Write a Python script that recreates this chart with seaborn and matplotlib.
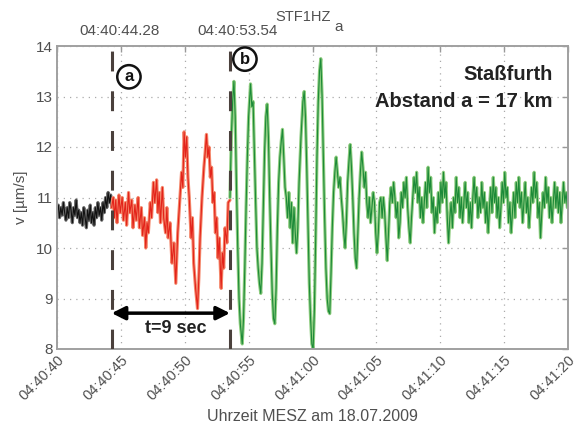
import matplotlib
matplotlib.use("Agg")
import matplotlib.pyplot as plt
import matplotlib.transforms as mtransforms
import seaborn as sns

# ---------------- data (seconds after 04:40:00, velocity in µm/s) ----------------
black_t = [40.0, 40.1, 40.2, 40.3, 40.4, 40.5, 40.6, 40.7, 40.8, 40.9,
           41.0, 41.1, 41.2, 41.3, 41.4, 41.5, 41.6, 41.7, 41.8, 41.9,
           42.0, 42.1, 42.2, 42.3, 42.4, 42.5, 42.6, 42.7, 42.8, 42.9,
           43.0, 43.1, 43.2, 43.3, 43.4, 43.5, 43.6, 43.7, 43.8, 43.9,
           44.0, 44.1, 44.2, 44.28]
black_v = [10.7, 10.85, 10.6, 10.8, 10.65, 10.9, 10.7, 10.55, 10.8, 10.6,
           10.9, 10.75, 10.5, 10.8, 10.65, 10.95, 10.6, 10.75, 10.5, 10.7,
           10.45, 10.8, 10.6, 10.4, 10.75, 10.55, 10.85, 10.5, 10.7, 10.45,
           10.8, 10.6, 10.9, 10.65, 10.8, 10.55, 10.9, 10.7, 11.0, 10.8,
           11.1, 10.9, 11.05, 10.8]

red_t = [44.28, 44.4, 44.5, 44.6, 44.7, 44.85, 44.95, 45.1, 45.2, 45.35,
         45.45, 45.6, 45.7, 45.85, 45.95, 46.1, 46.2, 46.35, 46.45, 46.6,
         46.7, 46.85, 46.95, 47.05, 47.15, 47.3, 47.4, 47.55, 47.65, 47.8,
         47.9, 48.0, 48.1, 48.25, 48.35, 48.5, 48.6, 48.7, 48.85, 49.0,
         49.15, 49.3, 49.45, 49.6, 49.75, 49.85, 49.95, 50.05, 50.15, 50.25,
         50.35, 50.5, 50.6, 50.7, 50.85, 51.0, 51.1, 51.2, 51.35, 51.5,
         51.6, 51.7, 51.8, 51.9, 52.0, 52.1, 52.2, 52.3, 52.4, 52.5,
         52.6, 52.7, 52.85, 52.95, 53.05, 53.15, 53.3, 53.4, 53.54]
red_v = [10.8, 11.0, 10.6, 10.95, 10.5, 11.05, 10.7, 11.0, 10.55, 10.9,
         10.45, 11.1, 10.7, 10.95, 10.4, 10.85, 10.55, 11.0, 10.4, 10.8,
         10.25, 10.6, 10.0, 10.5, 10.3, 10.9, 10.6, 11.3, 10.9, 11.35,
         10.7, 11.1, 10.5, 11.2, 10.6, 10.3, 10.8, 10.2, 10.5, 9.7,
         10.1, 9.3, 10.3, 10.9, 11.5, 11.2, 12.3, 11.8, 12.2, 11.4,
         11.0, 10.2, 10.6, 9.7, 9.2, 8.8, 9.4, 10.2, 11.0, 11.6,
         11.9, 12.25, 11.8, 12.0, 11.4, 11.6, 10.9, 11.1, 10.3, 10.6,
         9.8, 10.2, 9.2, 9.9, 9.6, 10.4, 10.1, 10.9, 10.95]

green_t = [53.54, 53.65, 53.75, 53.85, 53.95, 54.05, 54.15, 54.25, 54.35, 54.5,
           54.6, 54.7, 54.8, 54.9, 55.0, 55.15, 55.25, 55.35, 55.45, 55.55,
           55.65, 55.75, 55.85, 55.95, 56.05, 56.15, 56.25, 56.35, 56.45, 56.55,
           56.65, 56.75, 56.85, 56.95, 57.05, 57.15, 57.25, 57.35, 57.45, 57.55,
           57.65, 57.75, 57.85, 57.95, 58.05, 58.15, 58.25, 58.35, 58.45, 58.55,
           58.65, 58.75, 58.85, 58.95, 59.1, 59.25, 59.35, 59.45, 59.55, 59.65,
           59.75, 59.85, 59.95, 60.05, 60.15, 60.25, 60.35, 60.45, 60.55, 60.65,
           60.75, 60.85, 60.95, 61.05, 61.15, 61.25, 61.35, 61.45, 61.55, 61.65,
           61.75, 61.85, 61.95, 62.05, 62.15, 62.25, 62.35, 62.45, 62.55, 62.65,
           62.75, 62.85, 62.95, 63.05, 63.15, 63.25, 63.35, 63.45, 63.55, 63.65,
           63.75, 63.85, 63.95, 64.05, 64.15, 64.25, 64.35, 64.45, 64.55, 64.65,
           64.75, 64.85, 64.95, 65.05, 65.15, 65.25, 65.35, 65.45, 65.55, 65.65,
           65.75, 65.85, 65.95, 66.05, 66.15, 66.25, 66.35, 66.45, 66.55, 66.65,
           66.75, 66.85, 66.95, 67.05, 67.15, 67.25, 67.35, 67.45, 67.55, 67.65,
           67.75, 67.85, 67.95, 68.05, 68.15, 68.25, 68.35, 68.45, 68.55, 68.65,
           68.75, 68.85, 68.95, 69.05, 69.15, 69.25, 69.35, 69.45, 69.55, 69.65,
           69.75, 69.85, 69.95, 70.05, 70.15, 70.25, 70.35, 70.45, 70.55, 70.65,
           70.75, 70.85, 70.95, 71.05, 71.15, 71.25, 71.35, 71.45, 71.55, 71.65,
           71.75, 71.85, 71.95, 72.05, 72.15, 72.25, 72.35, 72.45, 72.55, 72.65,
           72.75, 72.85, 72.95, 73.05, 73.15, 73.25, 73.35, 73.45, 73.55, 73.65,
           73.75, 73.85, 73.95, 74.05, 74.15, 74.25, 74.35, 74.45, 74.55, 74.65,
           74.75, 74.85, 74.95, 75.05, 75.15, 75.25, 75.35, 75.45, 75.55, 75.65,
           75.75, 75.85, 75.95, 76.05, 76.15, 76.25, 76.35, 76.45, 76.55, 76.65,
           76.75, 76.85, 76.95, 77.05, 77.15, 77.25, 77.35, 77.45, 77.55, 77.65,
           77.75, 77.85, 77.95, 78.05, 78.15, 78.25, 78.35, 78.45, 78.55, 78.65,
           78.75, 78.85, 78.95, 79.05, 79.15, 79.25, 79.35, 79.45, 79.55, 79.65,
           79.75, 79.85, 79.95]
green_v = [11.0, 12.2, 12.9, 13.3, 12.6, 11.2, 10.0, 9.0, 8.5, 8.1,
           8.6, 9.6, 10.8, 11.8, 12.6, 13.25, 12.8, 12.9, 11.9, 10.9,
           10.0, 9.6, 9.3, 9.1, 9.7, 10.8, 11.9, 12.6, 12.85, 12.2,
           11.0, 10.0, 9.1, 8.6, 8.5, 9.2, 10.4, 11.3, 11.8, 12.1,
           12.35, 11.8, 11.2, 11.0, 10.6, 11.1, 10.4, 10.9, 10.1, 10.8,
           10.3, 9.9, 10.4, 11.3, 12.2, 12.9, 13.1, 12.6, 11.6, 10.4,
           9.3, 8.6, 8.1, 8.0, 8.8, 10.2, 11.8, 12.9, 13.5, 13.75,
           13.0, 11.8, 10.6, 9.6, 9.0, 8.75, 8.7, 9.5, 10.4, 11.1,
           11.5, 11.8, 11.5, 11.2, 11.4, 11.0, 10.7, 10.3, 10.0, 10.5,
           11.3, 11.7, 12.05, 11.6, 11.0, 10.3, 9.8, 9.6, 10.3, 11.0,
           11.5, 11.9, 11.6, 11.2, 11.5, 10.9, 10.6, 11.0, 10.5, 10.8,
           11.1, 10.9, 10.3, 9.9, 10.3, 10.9, 11.0, 10.6, 11.0, 10.7,
           10.2, 9.75, 10.3, 10.9, 11.2, 10.9, 11.3, 11.0, 10.6, 10.9,
           10.2, 10.5, 11.1, 10.8, 11.3, 11.0, 11.4, 10.8, 10.4, 10.1,
           10.6, 11.0, 11.4, 11.1, 11.5, 10.9, 11.2, 10.6, 11.0, 10.5,
           10.9, 11.3, 10.8, 11.6, 11.1, 11.4, 10.7, 11.0, 10.3, 10.8,
           10.5, 11.1, 10.7, 11.3, 10.9, 11.5, 11.0, 11.3, 10.6, 10.1,
           10.6, 10.9, 10.4, 11.0, 10.7, 11.4, 10.9, 11.2, 10.6, 11.0,
           10.5, 10.9, 11.3, 10.8, 11.1, 10.5, 10.9, 10.4, 11.0, 11.4,
           10.9, 11.2, 10.6, 11.0, 10.7, 11.3, 10.8, 11.1, 10.5, 10.9,
           10.3, 10.8, 11.2, 10.7, 11.4, 10.9, 11.2, 10.6, 11.0, 10.4,
           10.8, 11.3, 10.9, 11.5, 11.0, 11.2, 10.5, 10.9, 10.3, 10.7,
           11.1, 10.6, 11.3, 10.9, 11.4, 10.8, 11.1, 10.5, 10.9, 11.3,
           10.7, 11.0, 10.4, 10.8, 11.2, 10.9, 11.5, 11.0, 11.3, 10.6,
           10.9, 10.2, 10.7, 11.1, 10.8, 11.4, 10.9, 11.2, 10.6, 11.0,
           10.5, 10.9, 11.3, 10.8, 11.2, 10.7, 11.1, 10.5, 10.9, 11.3,
           10.9, 11.1, 10.8]

onset_times = [44.28, 53.54]
onset_labels = ["04:40:44.28", "04:40:53.54"]
x_ticks = [40, 45, 50, 55, 60, 65, 70, 75, 80]
x_ticklabels = ["04:40:40", "04:40:45", "04:40:50", "04:40:55", "04:41:00",
                "04:41:05", "04:41:10", "04:41:15", "04:41:20"]
y_ticks = [8, 9, 10, 11, 12, 13, 14]

# ---------------- figure ----------------
sns.set_style("white")
plt.rcParams["font.family"] = ["Liberation Sans", "DejaVu Sans"]

fig = plt.figure(figsize=(5.74, 4.28), dpi=100)
ax = fig.add_axes([57 / 574, 1 - 349 / 428, 511 / 574, 303 / 428])

grey_txt = "#505050"

for t, v, light, dark in [(black_t, black_v, "#6a6a6a", "#111111"),
                          (red_t, red_v, "#f4866a", "#e3231a"),
                          (green_t, green_v, "#8fcd80", "#1c8a38")]:
    sns.lineplot(x=t, y=v, ax=ax, color=light, lw=2.3, estimator=None, sort=False)
    sns.lineplot(x=t, y=v, ax=ax, color=dark, lw=0.8, estimator=None, sort=False)

ax.set_xlim(40, 80)
ax.set_ylim(8, 14)
ax.set_xticks(x_ticks)
ax.set_xticklabels(x_ticklabels, rotation=45, ha="right", rotation_mode="anchor",
                   fontsize=10.5, color=grey_txt)
ax.set_yticks(y_ticks)
ax.set_yticklabels([str(v) for v in y_ticks], fontsize=11, color=grey_txt)
ax.tick_params(direction="in", length=4, width=1, color="#999999",
               top=True, right=True, pad=3)
ax.grid(True, linestyle=(0, (1, 4)), color="#aaaaaa", lw=0.9)
for s in ax.spines.values():
    s.set_color("#a0a0a0")
    s.set_linewidth(1.4)

ax.set_xlabel("Uhrzeit MESZ am 18.07.2009", fontsize=11.5, color=grey_txt, labelpad=4)
ax.set_ylabel("v [µm/s]", fontsize=11, color=grey_txt, labelpad=6)

# onset dashed lines
for t in onset_times:
    ax.axvline(t, color="#4a403c", lw=2.2, dashes=(6.5, 6.5), zorder=5)

trans = mtransforms.blended_transform_factory(ax.transData, ax.transAxes)
for t, lab in zip(onset_times, onset_labels):
    ax.text(t + 0.6, 1.05, lab, transform=trans, ha="center", va="center",
            fontsize=11, color=grey_txt)

ax.text(57.06, 1.096, "STF1HZ", transform=trans, ha="left", va="center",
        fontsize=10.5, color=grey_txt)
ax.text(61.75, 1.063, "a", transform=trans, ha="left", va="center",
        fontsize=11, color=grey_txt)

# circled markers
for t, v, lab in [(45.63, 13.39, "a"), (54.71, 13.74, "b")]:
    ax.text(t, v, lab, ha="center", va="center", fontsize=12, fontweight="bold",
            color="#111111", zorder=7,
            bbox=dict(boxstyle="circle,pad=0.25", fc="white", ec="#111111", lw=1.8))

# duration arrow
ax.annotate("", xy=(onset_times[0], 8.71), xytext=(onset_times[1], 8.71),
            arrowprops=dict(arrowstyle="<|-|>", lw=2.5, color="black",
                            mutation_scale=20, shrinkA=0, shrinkB=0), zorder=6)
ax.text(49.3, 8.40, "t=9 sec", ha="center", va="center", fontsize=13,
        fontweight="bold", color="#222222")

ax.text(78.8, 13.43, "Staßfurth", ha="right", va="center", fontsize=14.5,
        fontweight="bold", color="#222222")
ax.text(78.8, 12.91, "Abstand a = 17 km", ha="right", va="center", fontsize=14.5,
        fontweight="bold", color="#222222")

fig.savefig("out.png", dpi=100)
